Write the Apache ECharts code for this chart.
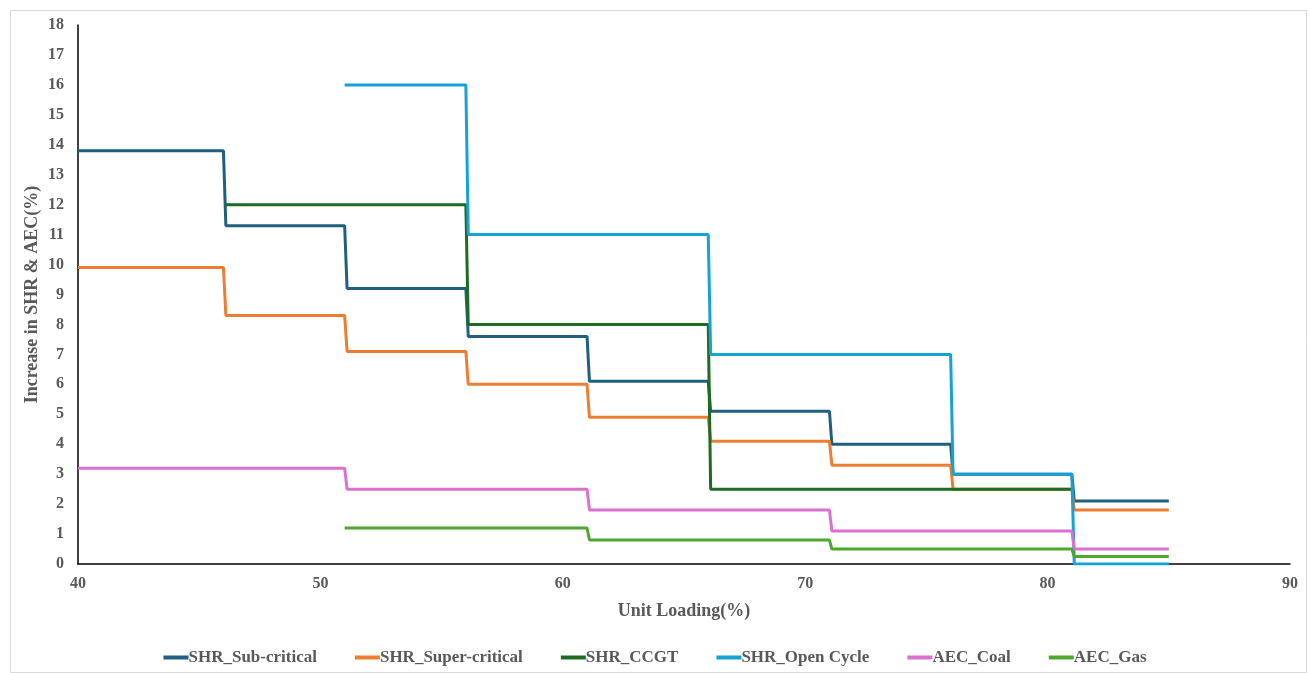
<!DOCTYPE html>
<html>
<head>
<meta charset="utf-8">
<script src="https://cdn.jsdelivr.net/npm/echarts@6/dist/echarts.min.js"></script>
<style>html,body{margin:0;padding:0;background:#fff}#c{width:1310px;height:673px}</style>
</head>
<body>
<div id="c"></div>
<script>
var seriesNames = ['SHR_Sub-critical','SHR_Super-critical','SHR_CCGT','SHR_Open Cycle','AEC_Coal','AEC_Gas'];
var colors = ['#1F5F7F','#ED7D31','#1E6B22','#14A2D8','#DA70D0','#4EA72E'];
var xTicks = [40,50,60,70,80,90];
var yTicks = [0,1,2,3,4,5,6,7,8,9,10,11,12,13,14,15,16,17,18];

var subCritical = [[40,13.8],[46,13.8],[46.1,11.3],[51,11.3],[51.1,9.2],[56,9.2],[56.1,7.6],[61,7.6],[61.1,6.1],[66,6.1],[66.1,5.1],[71,5.1],[71.1,4.0],[76,4.0],[76.1,3.0],[81,3.0],[81.1,2.1],[85,2.1]];
var superCritical = [[40,9.9],[46,9.9],[46.1,8.3],[51,8.3],[51.1,7.1],[56,7.1],[56.1,6.0],[61,6.0],[61.1,4.9],[66,4.9],[66.1,4.1],[71,4.1],[71.1,3.3],[76,3.3],[76.1,2.5],[81,2.5],[81.1,1.8],[85,1.8]];
var ccgt = [[46.1,12],[56,12],[56.1,8],[66,8],[66.1,2.5],[81,2.5]];
var openCycle = [[51,16],[56,16],[56.1,11],[66,11],[66.1,7],[76,7],[76.1,3],[81,3],[81.1,0],[85,0]];
var aecCoal = [[40,3.2],[51,3.2],[51.1,2.5],[61,2.5],[61.1,1.8],[71,1.8],[71.1,1.1],[81,1.1],[81.1,0.5],[85,0.5]];
var aecGas = [[51,1.2],[61,1.2],[61.1,0.8],[71,0.8],[71.1,0.5],[81,0.5],[81.1,0.25],[85,0.25]];
var allData = [subCritical, superCritical, ccgt, openCycle, aecCoal, aecGas];

var font = '"Liberation Serif","Times New Roman",serif';
var chart = echarts.init(document.getElementById('c'));
chart.setOption({
  animation: false,
  backgroundColor: '#fff',
  graphic: [{type:'rect', left: 8, top: 8, shape:{width:1296, height:662}, style:{fill:'none', stroke:'#d9d9d9', lineWidth:1}}],
  grid: {left: 78, right: 20, top: 25, bottom: 109, containLabel: false},
  xAxis: {
    type: 'value', min: 40, max: 90, interval: 10,
    name: 'Unit Loading(%)', nameLocation: 'middle', nameGap: 38,
    nameTextStyle: {fontFamily: font, fontWeight: 'bold', fontSize: 18, color: '#595959'},
    axisLine: {show: true, lineStyle: {color: '#000', width: 1.5}},
    axisTick: {show: false},
    splitLine: {show: false},
    axisLabel: {fontFamily: font, fontWeight: 'bold', fontSize: 16, color: '#595959', margin: 12}
  },
  yAxis: {
    type: 'value', min: 0, max: 18, interval: 1,
    name: 'Increase in SHR & AEC(%)', nameLocation: 'middle', nameGap: 37, nameMoveOverlap: false,
    nameTextStyle: {fontFamily: font, fontWeight: 'bold', fontSize: 18, color: '#595959'},
    axisLine: {show: true, lineStyle: {color: '#000', width: 1.5}},
    axisTick: {show: false},
    splitLine: {show: false},
    axisLabel: {fontFamily: font, fontWeight: 'bold', fontSize: 16, color: '#595959', margin: 14}
  },
  legend: {
    bottom: 2, left: 'center', itemGap: 38, itemWidth: 25, itemHeight: 4,
    icon: 'rect',
    textStyle: {fontFamily: font, fontWeight: 'bold', fontSize: 17, color: '#595959', padding:[0,0,0,-5]},
    data: seriesNames
  },
  series: seriesNames.map(function(n, i){
    return {
      name: n, type: 'line', data: allData[i], symbol: 'none', showSymbol: false,
      lineStyle: {color: colors[i], width: 3}, itemStyle: {color: colors[i]},
      z: 2 + i
    };
  })
});
</script>
</body>
</html>
